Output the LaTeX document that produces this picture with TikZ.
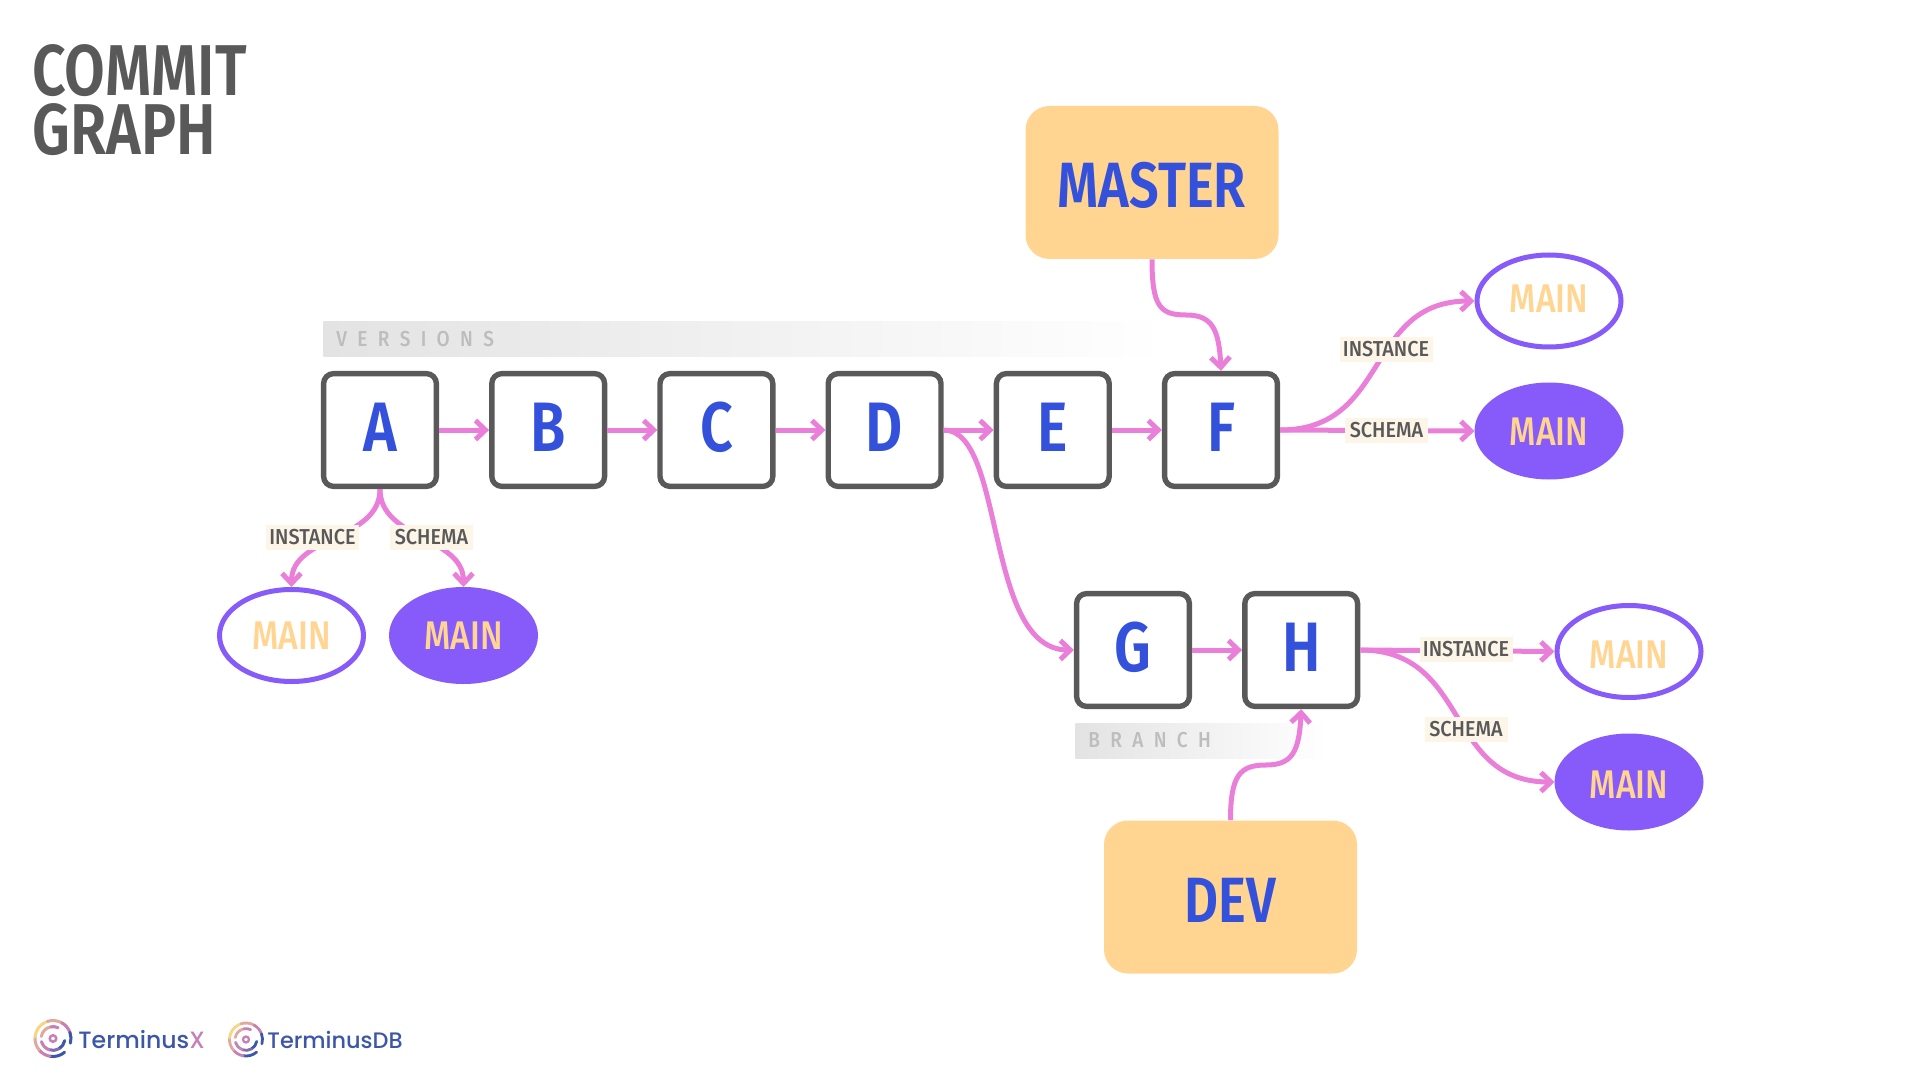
\documentclass[tikz,border=0pt]{standalone}
\usepackage{fontspec}
\setmainfont{Fira Sans SemiBold}[FakeStretch=0.82]
\newfontfamily\labelfont{Fira Sans Medium}[FakeStretch=0.92]
\newfontfamily\ringfont{Fira Sans Medium}[FakeStretch=0.84]
\newfontfamily\spacedfont{Fira Sans Medium}[FakeStretch=0.88,LetterSpace=48]
\newfontfamily\logofont{Poppins Medium}
\usetikzlibrary{positioning,shapes.geometric,arrows.meta}

\definecolor{boxgrey}{HTML}{595959}
\definecolor{letterblue}{HTML}{3451DB}
\definecolor{linkpink}{HTML}{E97FD9}
\definecolor{tagsand}{HTML}{FFD591}
\definecolor{mainviolet}{HTML}{875BF9}
\definecolor{labelcream}{HTML}{FDF6E8}
\definecolor{barfade}{HTML}{E3E3E3}
\definecolor{barinitial}{HTML}{BDBDBD}
\definecolor{logoblue}{HTML}{3D57A8}
\definecolor{logopink}{HTML}{C77FB5}
\definecolor{logoyellow}{HTML}{F8D585}

\tikzset{
    commit/.style={draw=boxgrey,line width=2.7pt,rounded corners=5pt,fill=white,minimum size=56.4pt,inner sep=0pt,text height=24pt,text depth=2.4pt,text=letterblue,font=\fontsize{35}{35}\selectfont},
    branchtag/.style={fill=tagsand,rounded corners=12pt,minimum width=126.5pt,minimum height=76.5pt,inner sep=0pt,text height=25.5pt,text depth=0pt,text=letterblue,font=\fontsize{32}{32}\selectfont},
    mainring/.style={ellipse,draw=mainviolet,line width=2.5pt,minimum width=72pt,minimum height=46pt,inner sep=0pt,text height=14pt,text depth=0pt,text=tagsand,font=\fontsize{20}{20}\ringfont},
    instancering/.style={mainring,fill=white},
    schemaring/.style={mainring,fill=mainviolet},
    link/.style={draw=linkpink,line width=2.5pt,-{Straight Barb[length=5pt,width=9.5pt]}},
    linklabel/.style={fill=labelcream,minimum height=12.5pt,inner sep=0pt,text=boxgrey,font=\fontsize{10.8}{10.8}\labelfont},
    fadebar/.style={anchor=west,left color=barfade,right color=white,minimum height=17.5pt,inner xsep=6.5pt,inner ysep=0pt,align=left,text=barinitial,font=\fontsize{10.8}{10.8}\spacedfont}
}

\newcommand{\logomark}[3]{
    \foreach \from/\to/\rad/\shade in {
        110/60/1/logoyellow!50!logopink, 60/20/1/logopink, 20/-15/1/logoblue,
        -50/-100/1/logoblue, -100/-140/1/logopink, -140/-185/1/logopink!50!logoyellow, 175/115/1/logoyellow,
        170/100/.66/logoyellow!50!logopink, 100/65/.66/logopink,
        -10/-60/.66/logoblue, -60/-110/.66/logoblue!50!logopink, -110/-165/.66/logopink}
        \draw[\shade,line width=#2*.085pt,line cap=round] (#1) ++(\from:\rad*#2*.5pt) arc[start angle=\from,end angle=\to,radius=\rad*#2*.5pt];
    \draw[logopink,line width=#2*.07pt] (#1) circle[radius=#2*.09pt];
    #3
}

\begin{document}
\begin{tikzpicture}[x=0.5pt,y=-0.5pt,node distance=25pt]
    \useasboundingbox (0,0) rectangle (1920,1080);

    \node[anchor=north west,inner sep=0pt,align=left,text=boxgrey,font=\fontsize{36}{29.5}\selectfont] (title) at (32,44) {COMMIT\\GRAPH};

    \node[fadebar,minimum width=422pt,text width=409pt] (versions) at (323,339.5) {VERSIONS};
    \node[fadebar,minimum width=126pt,text width=113pt] (branch) at (1075,740.5) {BRANCH};

    \node[commit] (A) at (380,430) {A};
    \node[commit,right=of A] (B) {B};
    \node[commit,right=of B] (C) {C};
    \node[commit,right=of C] (D) {D};
    \node[commit,right=of D] (E) {E};
    \node[commit,right=of E] (F) {F};
    \node[commit] (G) at (1133,650) {G};
    \node[commit,right=of G] (H) {H};

    \node[branchtag] (master) at (1152,182.5) {MASTER};
    \node[branchtag] (dev) at (1230.5,897) {DEV};

    \node[instancering] (mainAi) at (291.5,635.5) {MAIN};
    \node[schemaring] (mainAs) at (463.5,635.5) {MAIN};
    \node[instancering,text depth=2pt] (mainFi) at (1549,301) {MAIN};
    \node[schemaring] (mainFs) at (1549,431) {MAIN};
    \node[instancering,text height=16.5pt] (mainHi) at (1629,651.5) {MAIN};
    \node[schemaring,text height=16.5pt] (mainHs) at (1629,782) {MAIN};

    \coordinate (masterbend) at (1186,315);
    \coordinate (devbend) at (1266,765);

    \draw[link] (A) -- (B);
    \draw[link] (B) -- (C);
    \draw[link] (C) -- (D);
    \draw[link] (D) -- (E);
    \draw[link] (E) -- (F);
    \draw[link] (G) -- (H);
    \draw[link] (D.east) .. controls +(62,0) and +(-90,0) .. (G.west);
    \draw[link] (master.south) .. controls +(0,47) and +(-26,0) .. (masterbend) .. controls +(26,0) and +(-2,-42) .. (F.north);
    \draw[link] (dev.north) .. controls +(0,-45) and +(-26,0) .. (devbend) .. controls +(26,0) and +(-2,43) .. (H.south);
    \draw[link] (A.south) to[out=-90,in=90] (mainAi.north);
    \draw[link] (A.south) to[out=-90,in=90] (mainAs.north);
    \draw[link] (F.east) .. controls +(110,0) and +(-110,0) .. (mainFi.west);
    \draw[link] (F.east) -- (mainFs.west);
    \draw[link] (H.east) -- (mainHi.west);
    \draw[link] (H.east) .. controls +(110,0) and +(-110,0) .. (mainHs.west);

    \node[linklabel,minimum width=46.5pt] (labelAi) at (312.5,537.5) {INSTANCE};
    \node[linklabel,minimum width=41.5pt] (labelAs) at (431.5,537.5) {SCHEMA};
    \node[linklabel,minimum width=46.5pt] (labelFi) at (1386,349.5) {INSTANCE};
    \node[linklabel,minimum width=41.5pt] (labelFs) at (1386.5,430.5) {SCHEMA};
    \node[linklabel,minimum width=46.5pt] (labelHi) at (1466,649) {INSTANCE};
    \node[linklabel,minimum width=41.5pt] (labelHs) at (1466,729) {SCHEMA};

    \logomark{53,1038.5}{18}{}
    \logomark{246,1039.5}{16.5}{}
    \node[anchor=base west,inner sep=0pt,text=logoblue,font=\fontsize{11.8}{12}\logofont] (logox) at (78,1048) {Terminus\textcolor{logopink}{X}};
    \node[anchor=base west,inner sep=0pt,text=logoblue,font=\fontsize{11.2}{12}\logofont] (logodb) at (267,1048) {TerminusDB};
\end{tikzpicture}
\end{document}
